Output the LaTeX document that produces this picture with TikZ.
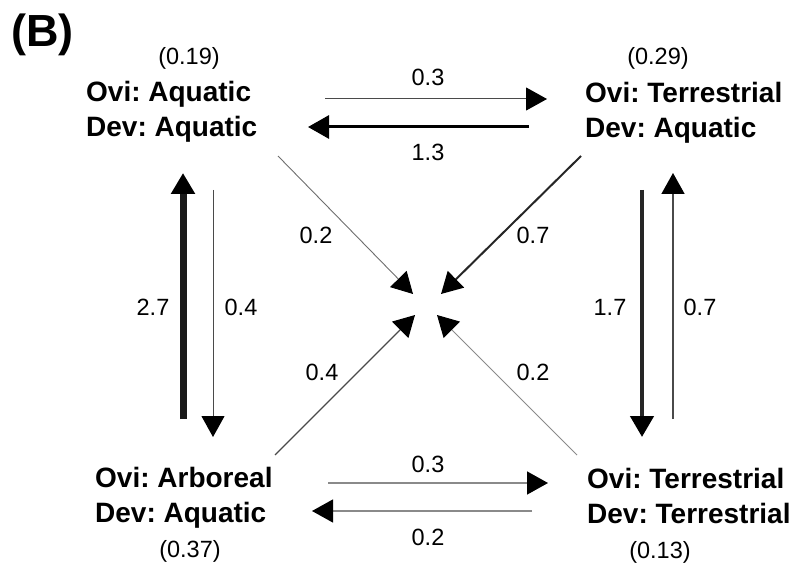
\documentclass[tikz,border=0pt]{standalone}
\usepackage{fontspec}
\setmainfont{Liberation Sans}
\usetikzlibrary{arrows.meta}
\frenchspacing
\definecolor{thingray}{HTML}{4A4A4A}
\definecolor{lightgray2}{HTML}{8A8A8A}
\tikzset{
  state/.style={font=\fontsize{28}{35}\selectfont\bfseries\frenchspacing, align=left, anchor=base west, inner sep=0pt},
  prob/.style={font=\fontsize{23.5}{28}\selectfont, inner sep=0pt},
  rate/.style={font=\fontsize{23.5}{28}\selectfont, inner sep=0pt},
  flow/.style={-{Triangle[length=21pt,width=23pt,color=black]}},
}
\begin{document}
\begin{tikzpicture}[x=1pt,y=-1pt]
\useasboundingbox (0,0) rectangle (799,569);

% panel letter
\node[font=\fontsize{45}{50}\selectfont\bfseries, anchor=base west, inner sep=0pt] (panel) at (11,47) {(B)};

% states (anchored at the baseline of the second line)
\node[state] (aa) at (86,137) {Ovi: Aquatic\\Dev: Aquatic};
\node[state] (ta) at (585,138) {Ovi: Terrestrial\\Dev: Aquatic};
\node[state] (ra) at (95,522) {Ovi: Arboreal\\Dev: Aquatic};
\node[state] (tt) at (587,523) {Ovi: Terrestrial\\Dev: Terrestrial};

% stationary frequencies
\node[prob] (paa) at (189,58) {(0.19)};
\node[prob] (pta) at (658,58) {(0.29)};
\node[prob] (pra) at (190,551) {(0.37)};
\node[prob] (ptt) at (660,552) {(0.13)};

% arrow end points
\coordinate (aa-e) at (325,99);  \coordinate (ta-w) at (547,99);
\coordinate (ta-e) at (529,127); \coordinate (aa-w) at (308,127);
\coordinate (ra-e) at (328,483); \coordinate (tt-w) at (548,483);
\coordinate (tt-e) at (532,511); \coordinate (ra-w) at (312,511);
\coordinate (aa-s1) at (183,419); \coordinate (aa-n1) at (183,173);
\coordinate (aa-n2) at (213,190); \coordinate (aa-s2) at (213,437);
\coordinate (ta-n1) at (642,190); \coordinate (ta-s1) at (642,437);
\coordinate (ta-s2) at (673,419); \coordinate (ta-n2) at (673,173);
\coordinate (aa-d) at (278,156);  \coordinate (c-nw) at (413,294);
\coordinate (ta-d) at (581,156);  \coordinate (c-ne) at (441,294);
\coordinate (ra-d) at (275,455);  \coordinate (c-sw) at (415,315);
\coordinate (tt-d) at (577,455);  \coordinate (c-se) at (437,315);

% horizontal transitions
\draw[flow, thingray, line width=1pt] (aa-e) -- (ta-w);
\draw[flow, black, line width=3pt] (ta-e) -- (aa-w);
\draw[flow, lightgray2, line width=1.6pt] (ra-e) -- (tt-w);
\draw[flow, lightgray2, line width=1.2pt] (tt-e) -- (ra-w);

% vertical transitions
\draw[flow, black!90, line width=7pt] (aa-s1) -- (aa-n1);
\draw[flow, thingray, line width=1pt] (aa-n2) -- (aa-s2);
\draw[flow, black!85, line width=4.5pt] (ta-n1) -- (ta-s1);
\draw[flow, thingray, line width=1.6pt] (ta-s2) -- (ta-n2);

% transitions towards the centre
\draw[flow, thingray!80, line width=0.9pt] (aa-d) -- (c-nw);
\draw[flow, black!85, line width=2pt] (ta-d) -- (c-ne);
\draw[flow, thingray, line width=1.1pt] (ra-d) -- (c-sw);
\draw[flow, lightgray2, line width=1pt] (tt-d) -- (c-se);

% rate labels
\node[rate] (r1) at (428,77) {0.3};
\node[rate] (r2) at (428,152) {1.3};
\node[rate] (r3) at (428,464) {0.3};
\node[rate] (r4) at (428,537) {0.2};
\node[rate] (r5) at (153,307) {2.7};
\node[rate] (r6) at (241,307) {0.4};
\node[rate] (r7) at (610,307) {1.7};
\node[rate] (r8) at (700,307) {0.7};
\node[rate] (r9) at (316,235) {0.2};
\node[rate] (r10) at (533,235) {0.7};
\node[rate] (r11) at (322,372) {0.4};
\node[rate] (r12) at (533,372) {0.2};
\end{tikzpicture}
\end{document}
